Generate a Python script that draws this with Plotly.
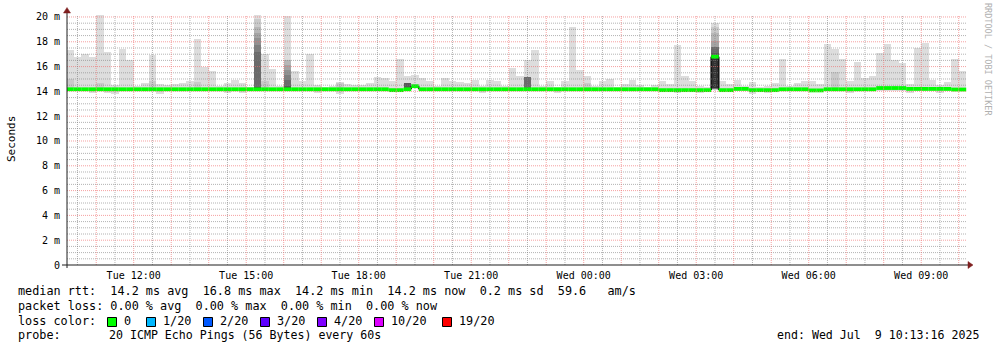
import plotly.graph_objects as go
from datetime import datetime, timedelta

# ---------------- data ----------------
range_start = "2025-07-08 10:13:16"
range_end = "2025-07-09 10:13:16"
first_bar = "2025-07-08 10:12:00"
step_minutes = 12

# top of the smoke (max of 20 pings), ms
ping_max = [17.35, 16.8, 17.0, 16.8, 20.15, 17.2, 14.5, 17.45, 16.55, 14.4,
            14.65, 16.95, 14.6, 14.5, 14.6, 14.7, 14.8, 18.2, 16.0, 15.65,
            14.45, 14.65, 14.9, 14.65, 14.35, 20.15, 17.05, 15.8, 14.45, 20.1,
            15.65, 14.85, 17.0, 14.5, 14.35, 14.45, 14.75, 14.6, 14.55, 14.5,
            14.7, 15.2, 15.05, 14.85, 16.6, 15.27, 15.3, 15.05, 14.8, 14.45,
            15.05, 14.85, 14.75, 14.7, 14.95, 14.4, 14.95, 14.85, 14.45, 15.9,
            15.27, 16.5, 17.35, 14.45, 14.8, 14.35, 14.8, 19.2, 15.7, 15.25,
            14.4, 14.8, 15.0, 14.35, 14.6, 14.95, 14.5, 14.35, 14.5, 14.85,
            14.6, 17.75, 15.25, 14.85, 14.4, 14.35, 19.5, 14.85, 14.6, 14.95,
            14.45, 14.75, 14.35, 14.4, 14.65, 16.6, 14.4, 14.65, 14.85, 14.85,
            14.6, 17.8, 17.45, 16.6, 14.85, 16.37, 15.05, 15.25, 17.07, 17.8,
            16.5, 16.26, 14.6, 17.47, 17.93, 14.95, 14.5, 14.75, 16.6, 15.65]

# bottom of the smoke (min of 20 pings), ms
ping_min = [14.0, 14.0, 14.0, 13.9, 14.0, 13.9, 13.8, 14.0, 14.0, 14.0,
            14.0, 14.0, 13.8, 14.0, 14.0, 14.0, 14.0, 14.0, 14.0, 14.0,
            14.0, 13.85, 14.0, 13.9, 14.0, 14.05, 14.0, 14.0, 14.0, 14.0,
            14.0, 14.0, 14.0, 13.85, 14.0, 14.0, 13.8, 14.0, 14.0, 14.0,
            14.0, 14.0, 14.0, 14.0, 14.0, 14.25, 14.32, 14.0, 14.0, 14.0,
            14.0, 14.0, 14.0, 14.0, 14.0, 13.85, 14.0, 14.0, 14.0, 14.0,
            14.0, 14.0, 14.0, 14.0, 14.0, 13.9, 14.0, 14.0, 14.0, 14.0,
            14.0, 14.0, 14.0, 14.0, 14.0, 14.0, 14.0, 14.0, 14.0, 14.0,
            14.0, 13.85, 14.0, 14.0, 13.9, 14.0, 14.1, 14.0, 14.0, 14.0,
            14.0, 13.8, 14.0, 13.85, 14.0, 14.0, 14.0, 14.0, 14.0, 14.0,
            14.0, 14.0, 14.0, 14.0, 13.85, 14.0, 14.0, 14.0, 14.0, 14.0,
            14.0, 14.0, 13.85, 14.0, 14.0, 14.0, 13.85, 14.0, 14.0, 14.0]

# median rtt per step, ms
median = [14.17, 14.17, 14.17, 14.17, 14.17, 14.17, 14.17, 14.17, 14.17, 14.17,
          14.17, 14.17, 14.17, 14.17, 14.17, 14.17, 14.17, 14.17, 14.17, 14.17,
          14.17, 14.17, 14.17, 14.17, 14.17, 14.17, 14.17, 14.17, 14.17, 14.17,
          14.17, 14.17, 14.17, 14.17, 14.17, 14.17, 14.17, 14.17, 14.17, 14.17,
          14.17, 14.17, 14.17, 14.1, 14.1, 14.17, 14.42, 14.17, 14.17, 14.17,
          14.17, 14.17, 14.17, 14.17, 14.17, 14.17, 14.17, 14.17, 14.17, 14.17,
          14.17, 14.17, 14.17, 14.17, 14.17, 14.17, 14.17, 14.17, 14.17, 14.17,
          14.17, 14.17, 14.17, 14.17, 14.17, 14.17, 14.17, 14.17, 14.17, 14.1,
          14.1, 14.1, 14.1, 14.1, 14.1, 14.1, 16.8, 14.1, 14.1, 14.2,
          14.2, 14.1, 14.1, 14.1, 14.1, 14.17, 14.17, 14.17, 14.17, 14.08,
          14.08, 14.17, 14.17, 14.17, 14.17, 14.17, 14.17, 14.17, 14.27, 14.27,
          14.27, 14.27, 14.2, 14.2, 14.2, 14.2, 14.2, 14.2, 14.15, 14.15]

# steps where the second smoke band (2nd highest ping) is visible
band2_bars = [0, 4, 11, 17, 26, 36, 69, 102]
band2_top = [15.0, 14.65, 14.8, 14.75, 14.8, 14.7, 14.65, 15.6]

# steps with a full 20-ping profile (sorted pings, ms)
special_bars = [25, 29, 45, 61, 86]
special_pings = [
    [14.05, 14.1, 14.12, 14.15, 14.17, 14.2, 14.22, 14.24, 14.25, 14.26,
     14.27, 14.28, 14.3, 17.2, 17.75, 18.3, 18.7, 19.2, 19.8, 20.15],
    [14.0, 14.08, 14.12, 14.15, 14.17, 14.18, 14.2, 14.22, 14.24, 14.25,
     14.26, 14.28, 14.4, 14.9, 15.3, 15.7, 16.1, 16.5, 16.5, 20.1],
    [14.25, 14.28, 14.3, 14.3, 14.3, 14.3, 14.3, 14.3, 14.45, 14.45,
     14.45, 14.45, 14.65, 14.65, 14.65, 14.65, 14.65, 14.65, 14.65, 15.27],
    [14.0, 14.1, 14.15, 14.2, 14.22, 14.24, 14.25, 14.25, 14.25, 14.25,
     14.25, 14.25, 14.25, 15.2, 15.2, 15.2, 15.2, 15.2, 15.2, 16.5],
    [14.1, 14.15, 14.18, 14.2, 14.2, 14.22, 14.22, 14.24, 14.25, 14.25,
     16.85, 16.9, 17.07, 17.6, 17.6, 17.6, 18.1, 18.7, 19.2, 19.5],
]

y_ticks = [0, 2, 4, 6, 8, 10, 12, 14, 16, 18, 20]
x_label_times = ["2025-07-08 12:00", "2025-07-08 15:00", "2025-07-08 18:00",
                 "2025-07-08 21:00", "2025-07-09 00:00", "2025-07-09 03:00",
                 "2025-07-09 06:00", "2025-07-09 09:00"]

legend_lines = [
    "median rtt:  14.2 ms avg  16.8 ms max  14.2 ms min  14.2 ms now  0.2 ms sd  59.6   am/s",
    "packet loss: 0.00 % avg  0.00 % max  0.00 % min  0.00 % now",
]
loss_labels = ["0", "1/20", "2/20", "3/20", "4/20", "10/20", "19/20"]
loss_colors = ["#00ff00", "#00b8ff", "#0059ff", "#5e00ff", "#7e00ff", "#dd00ff", "#ff0000"]
probe_label = "probe:"
probe_text = "20 ICMP Echo Pings (56 Bytes) every 60s"
end_text = "end: Wed Jul  9 10:13:16 2025"

# ---------------- geometry ----------------
W, H = 997, 347
L, R, T, B = 67, 30, 15, 82
PW, PH = W - L - R, H - T - B
Y_MAX = 20.16
MONO = "DejaVu Sans Mono"


def px2x(px):
    return (px - L) / PW


def py2y(py):
    return (H - B - py) / PH


def nb(s):
    return s.replace(" ", "\u00a0")


fmt = "%Y-%m-%d %H:%M:%S"
t0 = datetime.strptime(first_bar, fmt)
step = timedelta(minutes=step_minutes)
n = len(ping_max)
starts = [t0 + i * step for i in range(n)]
centers = [s + step / 2 for s in starts]
width_ms = step_minutes * 60 * 1000

band_gray = [221, 202, 183, 164, 145, 126, 107, 88, 69, 50]
band_lo = [[None] * n for _ in range(10)]
band_hi = [[None] * n for _ in range(10)]
for k in range(n):
    band_lo[0][k] = ping_min[k]
    band_hi[0][k] = ping_max[k]
for k, top in zip(band2_bars, band2_top):
    band_lo[1][k] = median[k] - 0.1
    band_hi[1][k] = top
for k, p in zip(special_bars, special_pings):
    for b in range(10):
        band_lo[b][k] = p[b]
        band_hi[b][k] = p[19 - b]

fig = go.Figure()
for b in range(10):
    ys, bases = [], []
    for k in range(n):
        if band_lo[b][k] is None:
            ys.append(None)
            bases.append(None)
        else:
            ys.append(band_hi[b][k] - band_lo[b][k])
            bases.append(band_lo[b][k])
    g = band_gray[b]
    fig.add_trace(go.Bar(
        x=centers, y=ys, base=bases, width=[width_ms] * n,
        marker=dict(color=f"rgb({g},{g},{g})", line=dict(width=0)),
        hoverinfo="skip", showlegend=False))

# dark median line: vertical transitions only visible
vx, vy = [], []
for k in range(1, n):
    if abs(median[k] - median[k - 1]) > 0.15:
        vx += [starts[k], starts[k], None]
        vy += [median[k - 1], median[k], None]
fig.add_trace(go.Scatter(x=vx, y=vy, mode="lines",
                         line=dict(color="#151515", width=1.6),
                         hoverinfo="skip", showlegend=False))

# green median band (loss 0)
gx, gy = [], []
for k in range(n):
    gx += [starts[k], starts[k] + step, None]
    gy += [median[k], median[k], None]
fig.add_trace(go.Scatter(x=gx, y=gy, mode="lines",
                         line=dict(color="#00ff00", width=3.8),
                         hoverinfo="skip", showlegend=False))

shapes = []
# horizontal grid
minor_c = "rgba(128,128,128,0.6)"
major_c = "rgba(240,110,110,0.65)"
v = 0.5
while v <= 20.0 + 1e-9:
    major = abs(v / 2 - round(v / 2)) < 1e-9
    shapes.append(dict(type="line", xref="paper", yref="y", x0=0, x1=1, y0=v, y1=v,
                       line=dict(color=major_c if major else minor_c, width=1, dash="1px,1px"),
                       layer="above"))
    v += 0.5
# vertical grid
rs = datetime.strptime(range_start, fmt)
re_ = datetime.strptime(range_end, fmt)
t = rs.replace(minute=30 if rs.minute < 30 else 0, second=0)
if rs.minute >= 30:
    t = t + timedelta(hours=1)
while t < re_:
    major = t.minute == 0
    shapes.append(dict(type="line", xref="x", yref="paper", x0=t, x1=t, y0=0, y1=py2y(16),
                       line=dict(color=major_c if major else minor_c, width=1, dash="1px,1px"),
                       layer="above"))
    t += timedelta(minutes=30)

axis_c = "#1f1f1f"
arrow_c = "#7f1f1f"
shapes.append(dict(type="line", xref="paper", yref="paper", x0=px2x(62), x1=px2x(969),
                   y0=py2y(265), y1=py2y(265), line=dict(color=axis_c, width=1), layer="above"))
shapes.append(dict(type="line", xref="paper", yref="paper", x0=px2x(67), x1=px2x(67),
                   y0=py2y(268), y1=py2y(12), line=dict(color=axis_c, width=1), layer="above"))
shapes.append(dict(type="path", xref="paper", yref="paper",
                   path=f"M {px2x(968)},{py2y(261.5)} L {px2x(973)},{py2y(265)} L {px2x(968)},{py2y(268.5)} Z",
                   fillcolor=arrow_c, line=dict(color=arrow_c, width=0.5), layer="above"))
shapes.append(dict(type="path", xref="paper", yref="paper",
                   path=f"M {px2x(63.5)},{py2y(13)} L {px2x(67)},{py2y(7.5)} L {px2x(70.5)},{py2y(13)} Z",
                   fillcolor=arrow_c, line=dict(color=arrow_c, width=0.5), layer="above"))

# loss colour squares
sq_left = [107, 146, 203, 260, 317, 374, 442]
for sx, c in zip(sq_left, loss_colors):
    shapes.append(dict(type="rect", xref="paper", yref="paper",
                       x0=px2x(sx + 0.5), x1=px2x(sx + 9.5), y0=py2y(326.5), y1=py2y(317.5),
                       fillcolor=c, line=dict(color="black", width=1)))

annotations = []
leg_font = dict(family=MONO, size=11.8, color="black")
leg_font2 = dict(family=MONO, size=11.6, color="black")
line_y = [291, 305.5, 320.5, 335]
for i, txt in enumerate(legend_lines):
    annotations.append(dict(text=nb(txt), xref="paper", yref="paper", x=px2x(16), y=py2y(line_y[i]),
                            xanchor="left", yanchor="middle", showarrow=False, font=leg_font))
annotations.append(dict(text=nb("loss color:"), xref="paper", yref="paper", x=px2x(16), y=py2y(line_y[2]),
                        xanchor="left", yanchor="middle", showarrow=False, font=leg_font))
for sx, lab in zip(sq_left, loss_labels):
    annotations.append(dict(text=lab, xref="paper", yref="paper", x=px2x(sx + 15), y=py2y(line_y[2]),
                            xanchor="left", yanchor="middle", showarrow=False, font=leg_font))
annotations.append(dict(text=nb(probe_label), xref="paper", yref="paper", x=px2x(16), y=py2y(line_y[3]),
                        xanchor="left", yanchor="middle", showarrow=False, font=leg_font))
annotations.append(dict(text=nb(probe_text), xref="paper", yref="paper", x=px2x(107), y=py2y(line_y[3]),
                        xanchor="left", yanchor="middle", showarrow=False, font=leg_font2))
annotations.append(dict(text=nb(end_text), xref="paper", yref="paper", x=px2x(981), y=py2y(line_y[3]),
                        xanchor="right", yanchor="middle", showarrow=False, font=leg_font2))
annotations.append(dict(text="Seconds", xref="paper", yref="paper", x=px2x(11), y=py2y(139),
                        xanchor="center", yanchor="middle", textangle=-90, showarrow=False,
                        font=dict(family=MONO, size=11, color="black")))
annotations.append(dict(text=nb("RRDTOOL / TOBI OETIKER"), xref="paper", yref="paper", x=px2x(988), y=py2y(59),
                        xanchor="center", yanchor="middle", textangle=90, showarrow=False,
                        font=dict(family=MONO, size=8.5, color="#b0b0b0")))

y_text = [("0" if v == 0 else f"{v} m") for v in y_ticks]

fig.update_layout(
    width=W, height=H,
    margin=dict(l=L, r=R, t=T, b=B, pad=0),
    paper_bgcolor="white", plot_bgcolor="white",
    barmode="overlay", bargap=0, showlegend=False,
    xaxis=dict(type="date", range=[range_start, range_end], showgrid=False, zeroline=False,
               showline=False, tickvals=x_label_times, tickformat="%a %H:%M", ticks="",
               ticklabelstandoff=3,
               tickfont=dict(family=MONO, size=10, color="black"), fixedrange=True),
    yaxis=dict(range=[0, Y_MAX], showgrid=False, zeroline=False, showline=False,
               tickvals=y_ticks, ticktext=y_text, ticks="", ticklabelstandoff=6,
               tickfont=dict(family=MONO, size=10, color="black"), fixedrange=True),
    shapes=shapes, annotations=annotations,
)

fig.write_html("out.html")
